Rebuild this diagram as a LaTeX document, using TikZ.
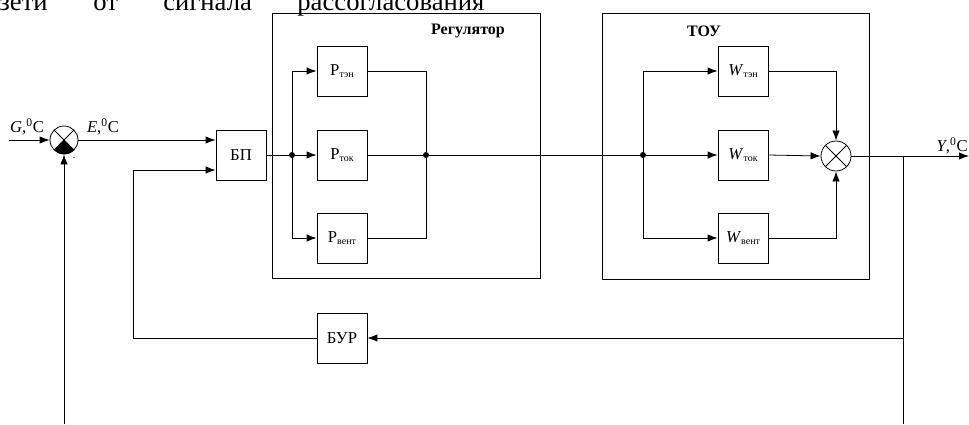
\documentclass[tikz,border=0pt]{standalone}
\usepackage{fontspec}
\setmainfont{Liberation Serif}
\usetikzlibrary{arrows.meta}
\newcommand{\lowsub}[1]{\raisebox{-2pt}{\fontsize{7.5}{8}\selectfont #1}}

\begin{document}
\begin{tikzpicture}[x=0.75pt, y=-0.75pt,
      box/.style={draw, minimum width=37.5pt, minimum height=37.5pt,
                  inner sep=0pt, font=\fontsize{12.5}{14}\selectfont},
      frame/.style={draw, inner sep=0pt},
      sum/.style={draw, circle, inner sep=0pt},
      arr/.style={-{Latex[length=7.5pt,width=5.5pt]}},
      dot/.style={circle, fill, inner sep=0pt, minimum size=4.5pt},
      lbl/.style={inner sep=0pt, font=\fontsize{12.5}{14}\selectfont},
      top/.style={anchor=base west, inner sep=0pt, font=\fontsize{20}{24}\selectfont},
      line width=0.6pt
    ]
    \useasboundingbox (0,0) rectangle (969,424);
    % Text line above the picture
    \begin{scope}
      \clip (0,0) rectangle (969,424);
      \node[top] (w1) at (-1,10.5) {зети};
      \node[top] (w2) at (93,10.5) {от};
      \node[top] (w3) at (163,10.5) {сигнала};
      \node[top] (w4) at (297,10.5) {рассогласования};
    \end{scope}
    % Frames
    \node[frame, minimum width=201pt, minimum height=198.75pt] (reg) at (406,145.5) {};
    \node[frame, minimum width=200.25pt, minimum height=199.5pt] (tou) at (735.5,146) {};
    \node[lbl, font=\fontsize{12}{14}\selectfont\bfseries] (regname) at (468,31) {Регулятор};
    \node[lbl, font=\fontsize{12}{14}\selectfont\bfseries] (touname) at (704,31) {ТОУ};
    % Nodes
    \node[sum, minimum size=21pt] (s1) at (64,140) {};
    \node[box] (bp)  at (241,155) {БП};
    \node[box] (pt)  at (342,71)  {Р\lowsub{тэн}};
    \node[box] (pk)  at (342,155) {Р\lowsub{ток}};
    \node[box] (pv)  at (342,238) {Р\lowsub{вент}};
    \node[box] (wt)  at (743,71)  {\textit{W}\lowsub{тэн}};
    \node[box] (wk)  at (743,155) {\textit{W}\lowsub{ток}};
    \node[box] (wv)  at (743,238) {\textit{W}\lowsub{вент}};
    \node[sum, minimum size=22.5pt] (s2) at (836,156) {};
    \node[box] (bur) at (342,338) {БУР};
    % Points
    \coordinate (gin)  at (9,140);
    \coordinate (fbin) at (64,424);
    \coordinate (fb)   at (133,170);
    \node[dot] (br1) at (292,155) {};
    \node[dot] (mrg) at (426,155) {};
    \node[dot] (br2) at (643,155) {};
    \coordinate (yout) at (969,156);
    \coordinate (tap)  at (903,156);
    \coordinate (tapend) at (903,424);
    % Comparators
    \draw (s1.45) -- (s1.-135) (s1.135) -- (s1.-45);
    \fill (s1.center) -- (s1.-45) arc[start angle=-45, delta angle=-90, radius=10.5pt] -- cycle;
    \draw (s2.45) -- (s2.-135) (s2.135) -- (s2.-45);
    % Labels
    \node[lbl] (gl) at (27,127) {\textit{G},\textsuperscript{0}C};
    \node[lbl] (el) at (103,127) {\textit{E},\textsuperscript{0}C};
    \node[lbl, anchor=east] (yl) at (968,146) {\textit{Y},\textsuperscript{0}C};
    \node[lbl, font=\tiny] (minus) at (74,159) {-};
    % Arrows (main path)
    \draw[arr] (gin) -- (s1);
    \draw[arr] (s1.east) -- (s1.east -| bp.west);
    \draw (bp.east) -- (br1);
    \draw[arr] (br1) |- (pt.west);
    \draw[arr] (br1) -- (pk.west);
    \draw[arr] (br1) |- (pv.west);
    \draw (pt.east) -| (mrg);
    \draw (pk.east) -- (mrg);
    \draw (pv.east) -| (mrg);
    \draw (mrg) -- (br2);
    \draw[arr] (br2) |- (wt.west);
    \draw[arr] (br2) -- (wk.west);
    \draw[arr] (br2) |- (wv.west);
    \draw[arr] (wt.east) -| (s2.north);
    \draw[arr] (wk.east) -- (s2.west);
    \draw[arr] (wv.east) -| (s2.south);
    \draw[arr] (s2.east) -- (yout);
    % Feedback
    \draw (tap) -- (tapend);
    \draw[arr] (tap |- bur) -- (bur.east);
    \draw[arr] (bur.west) -| (fb) -- (fb -| bp.west);
    \draw[arr] (fbin) -- (s1.south);
  \end{tikzpicture}
\end{document}
